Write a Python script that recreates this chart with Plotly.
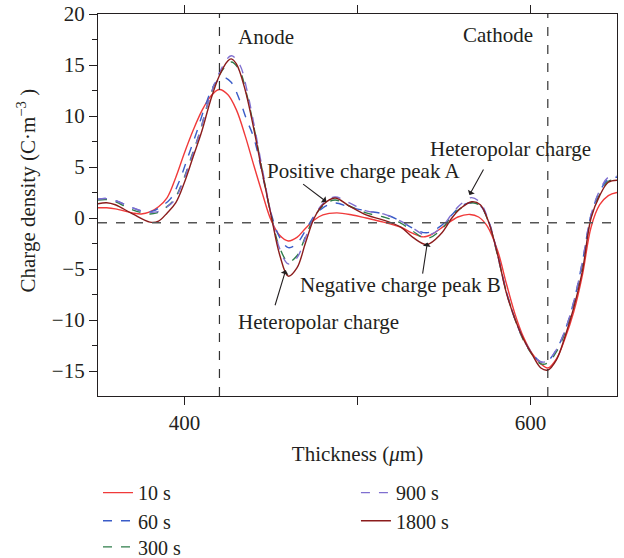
import plotly.graph_objects as go

# ---- data ----
x_10 = [350, 355, 360, 370, 375, 380, 385, 390, 395, 400, 405, 410, 415, 420, 425, 430, 435, 440, 445, 450, 455, 460, 465, 470, 475, 480, 488, 497, 505, 515, 525, 532, 538, 543, 550, 558, 565, 570, 575, 581, 586, 591, 596, 601, 606, 610, 615, 620, 625, 630, 635, 640, 645, 650]
y_10 = [1.0, 1.0, 0.9, 0.5, 0.4, 0.6, 1.1, 2.0, 4.0, 6.4, 8.6, 10.5, 11.9, 12.6, 12.1, 10.6, 8.1, 5.2, 2.4, -0.2, -1.7, -2.25, -1.9, -1.0, -0.2, 0.3, 0.5, 0.3, 0.0, -0.4, -0.9, -1.5, -1.85, -1.6, -0.8, 0.1, 0.35, 0.1, -0.8, -3.2, -6.4, -9.4, -11.7, -13.3, -14.3, -14.7, -13.8, -11.8, -9.2, -5.6, -0.9, 1.3, 2.2, 2.5]

x_60 = [350, 355, 360, 370, 377, 382, 387, 392, 397, 402, 407, 412, 417, 422, 427, 432, 436, 440, 445, 450, 455, 460, 465, 470, 475, 480, 487, 495, 505, 515, 525, 532, 540, 548, 555, 560, 566, 571, 576, 581, 586, 591, 596, 601, 606, 610, 615, 620, 625, 630, 635, 640, 645, 650]
y_60 = [1.85, 1.9, 1.7, 1.0, 0.6, 0.7, 1.2, 1.9, 3.6, 6.0, 8.4, 11.0, 13.0, 13.8, 13.3, 11.5, 9.6, 7.9, 4.3, 0.5, -1.9, -2.9, -2.5, -1.2, 0.2, 1.0, 1.47, 1.1, 0.7, 0.4, -0.3, -1.0, -1.45, -0.8, 0.4, 1.2, 1.5, 1.2, -0.4, -3.6, -7.2, -9.9, -11.9, -13.3, -14.1, -14.0, -12.9, -11.0, -8.2, -4.3, 0.3, 2.6, 3.8, 4.0]

x_300 = [350, 355, 360, 370, 379, 384, 389, 394, 399, 404, 409, 414, 420, 427, 432, 436, 440, 445, 450, 455, 460, 465, 470, 475, 480, 487, 495, 505, 515, 525, 532, 540, 548, 555, 560, 566, 571, 576, 581, 586, 591, 596, 601, 606, 610, 615, 620, 625, 630, 635, 640, 645, 650]
y_300 = [1.75, 1.8, 1.6, 0.8, 0.4, 0.5, 1.0, 1.8, 3.6, 6.0, 8.5, 11.5, 14.0, 15.3, 14.4, 12.1, 9.0, 4.6, 0.3, -2.9, -4.3, -3.7, -1.8, 0.1, 1.2, 1.76, 1.2, 0.5, 0.1, -0.5, -1.3, -2.0, -1.2, 0.3, 1.0, 1.5, 1.2, -0.5, -3.7, -7.2, -9.9, -12.0, -13.4, -14.3, -14.2, -13.1, -11.2, -8.4, -4.6, 0.1, 2.3, 3.6, 3.7]

x_900 = [350, 355, 360, 370, 378, 384, 389, 394, 399, 404, 409, 414, 420, 427, 432, 436, 440, 445, 450, 455, 460, 465, 470, 475, 480, 487, 495, 505, 515, 525, 532, 540, 548, 555, 560, 566, 571, 576, 581, 586, 591, 596, 601, 606, 610, 615, 620, 625, 630, 635, 640, 645, 650]
y_900 = [1.85, 1.9, 1.7, 1.0, 0.6, 0.6, 1.0, 1.7, 3.5, 5.9, 8.5, 11.5, 14.2, 15.9, 15.0, 12.6, 9.3, 4.8, 0.4, -3.0, -4.5, -3.9, -1.9, 0.1, 1.4, 2.06, 1.5, 0.7, 0.4, -0.3, -1.0, -1.7, -1.0, 0.5, 1.4, 2.0, 1.5, -0.4, -3.6, -7.2, -9.9, -11.9, -13.3, -14.1, -14.0, -12.9, -11.0, -8.2, -4.3, 0.3, 2.7, 4.0, 4.1]

x_1800 = [350, 355, 360, 370, 380, 385, 390, 395, 400, 405, 410, 415, 420, 425, 427, 430, 435, 440, 445, 450, 455, 460, 465, 470, 475, 480, 487, 495, 505, 515, 525, 532, 540, 548, 555, 560, 566, 571, 576, 581, 586, 591, 596, 601, 606, 610, 615, 620, 625, 630, 635, 640, 645, 650]
y_1800 = [1.4, 1.5, 1.3, 0.4, -0.4, -0.3, 0.5, 1.5, 3.5, 6.0, 8.5, 11.5, 13.9, 15.4, 15.6, 15.1, 12.6, 8.8, 4.4, 0.3, -3.6, -5.7, -4.9, -2.4, 0.0, 1.3, 1.96, 1.2, 0.3, -0.2, -0.9, -1.9, -2.6, -1.6, 0.1, 1.0, 1.6, 1.3, -0.5, -3.6, -7.3, -9.9, -11.9, -13.4, -14.7, -14.9, -13.9, -11.6, -8.8, -5.2, 0.0, 2.2, 3.5, 3.7]

series_names = ["10 s", "60 s", "300 s", "900 s", "1800 s"]
colors = ["#f03a3a", "#3a5cc8", "#2e7d4a", "#7f6fd0", "#8b1c1c"]
dashes = ["solid", "dash", "dash", "dash", "solid"]

anode_x = 420.2
cathode_x = 610.0
baseline_y = -0.46

xs = [x_10, x_60, x_300, x_900, x_1800]
ys = [y_10, y_60, y_300, y_900, y_1800]

FONT = "Liberation Serif"
INK = "#231f20"

# one legend box per entry (two columns: 10/60/300 left, 900/1800 right)
legend_ids = ["legend", "legend2", "legend3", "legend4", "legend5"]
legend_pos = [(0.0, -0.202), (0.0, -0.2755), (0.0, -0.344), (0.497, -0.202), (0.497, -0.2755)]

fig = go.Figure()
for i in range(5):
    fig.add_trace(go.Scatter(
        x=xs[i], y=ys[i], mode="lines", name=series_names[i],
        line=dict(color=colors[i], width=1.4, dash=dashes[i], shape="spline", smoothing=1.0),
        legend=legend_ids[i],
    ))

# reference lines
fig.add_shape(type="line", xref="paper", yref="y", x0=0, x1=1, y0=baseline_y, y1=baseline_y,
              line=dict(color="#555555", width=1.6, dash="dash"))
for vx in (anode_x, cathode_x):
    fig.add_shape(type="line", xref="x", yref="paper", x0=vx, x1=vx, y0=0, y1=1,
                  line=dict(color="#333333", width=1.2, dash="dash"))

# text annotations
tf = dict(family=FONT, size=21, color=INK)
fig.add_annotation(x=447, y=17.7, text="Anode", showarrow=False, font=tf)
fig.add_annotation(x=581.4, y=17.9, text="Cathode", showarrow=False, font=tf)
fig.add_annotation(x=503.5, y=4.6, text="Positive charge peak A", showarrow=False, font=tf)
fig.add_annotation(x=588.3, y=6.8, text="Heteropolar charge", showarrow=False, font=tf)
fig.add_annotation(x=524.8, y=-6.6, text="Negative charge peak B", showarrow=False, font=tf)
fig.add_annotation(x=477.5, y=-10.2, text="Heteropolar charge", showarrow=False, font=tf)

arrows = [
    (467.7, 3.43, 482.0, 1.6),
    (573.3, 4.9, 564.7, 2.25),
    (537.5, -5.6, 540.4, -2.4),
    (452.1, -8.7, 458.5, -5.1),
]
for ax_, ay_, x_, y_ in arrows:
    fig.add_annotation(x=x_, y=y_, ax=ax_, ay=ay_, axref="x", ayref="y", xref="x", yref="y",
                       text="", showarrow=True, arrowhead=1, arrowsize=1.2, arrowwidth=1.1,
                       arrowcolor=INK)

# y-axis title placed as rotated text
fig.add_annotation(x=-0.138, y=0.539, xref="paper", yref="paper", textangle=-90,
                   text="Charge density (C·m<sup>−3</sup> )", showarrow=False,
                   xanchor="center", yanchor="middle", font=tf)

layout_legends = {}
for lid, (lx, ly) in zip(legend_ids, legend_pos):
    layout_legends[lid] = dict(x=lx, y=ly, xanchor="left", yanchor="top", orientation="v",
                               font=dict(family=FONT, size=20, color=INK), bgcolor="rgba(0,0,0,0)")

fig.update_layout(
    width=624, height=558,
    margin=dict(l=98, r=7, t=14, b=162, autoexpand=False),
    paper_bgcolor="white", plot_bgcolor="white",
    font=dict(family=FONT, size=21, color=INK),
    showlegend=True,
    **layout_legends,
)

fig.update_xaxes(
    range=[350, 650], tickvals=[400, 600], ticktext=["400", "600"],
    ticks="outside", ticklen=8, tickwidth=1.2, tickcolor=INK,
    minor=dict(tickvals=[500], ticks="outside", ticklen=8, tickwidth=1.2, tickcolor=INK),
    showline=True, linecolor=INK, linewidth=1.2, mirror="ticks",
    showgrid=False, zeroline=False, automargin=False,
    tickfont=dict(family=FONT, size=21, color=INK),
    title=dict(text="Thickness (<i>μ</i>m)", font=dict(family=FONT, size=21, color=INK), standoff=12),
)
fig.update_yaxes(
    range=[-17.45, 20], tickvals=[-15, -10, -5, 0, 5, 10, 15, 20],
    ticks="outside", ticklen=8, tickwidth=1.2, tickcolor=INK,
    minor=dict(dtick=2.5, tick0=0, ticks="outside", ticklen=5, tickcolor=INK),
    showline=True, linecolor=INK, linewidth=1.2, mirror=True,
    showgrid=False, zeroline=False, automargin=False,
    tickfont=dict(family=FONT, size=21, color=INK),
)

fig.write_html("out.html")
